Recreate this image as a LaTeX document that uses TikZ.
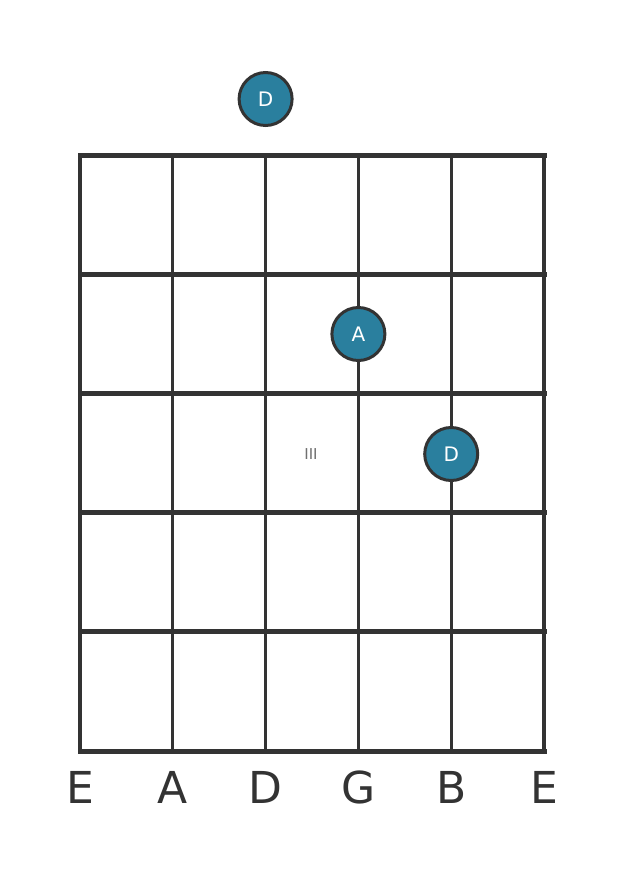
\documentclass[tikz,border=0pt]{standalone}
\usepackage{fontspec}
\setmainfont{DejaVu Sans}
\definecolor{lcol}{HTML}{333333}
\definecolor{dotcol}{HTML}{2A7F9E}
\begin{document}
\begin{tikzpicture}[x=1pt,y=-1pt,
  fretline/.style={lcol, line width=5pt},
  stringline/.style={lcol, line width=3.2pt},
  note/.style={circle, draw=lcol, line width=3pt, fill=dotcol, minimum size=53pt, inner sep=0pt, text=white, font=\fontsize{20}{20}\selectfont},
  slabel/.style={text=lcol, font=\fontsize{44}{44}\selectfont, anchor=base},
  fretnum/.style={text=lcol!70, font=\fontsize{15}{15}\selectfont}]
\useasboundingbox[fill=white] (0,0) rectangle (626,873);
\foreach \i/\x in {0/80,1/172.8,2/265.6,3/358.4,4/451.2,5/544}{
  \coordinate (st\i) at (\x,155);
  \coordinate (sb\i) at (\x,751);
  \draw[stringline] (st\i) -- (sb\i);
}
\foreach \j/\y in {0/155,1/274.2,2/393.4,3/512.6,4/631.8,5/751}{
  \coordinate (fl\j) at (80,\y);
  \coordinate (fr\j) at (544,\y);
  \draw[fretline, line cap=rect] (fl\j) -- (fr\j);
}
\node[fretnum] (iii) at (311,454) {III};
\node[note] (n1) at (265.6,99) {D};
\node[note] (n2) at (358.4,334) {A};
\node[note] (n3) at (451.2,454) {D};
\foreach \i/\x/\t in {0/80/E,1/172.8/A,2/265.6/D,3/358.4/G,4/451.2/B,5/544/E}{
  \node[slabel] (l\i) at (\x,803) {\t};
}
\end{tikzpicture}
\end{document}
